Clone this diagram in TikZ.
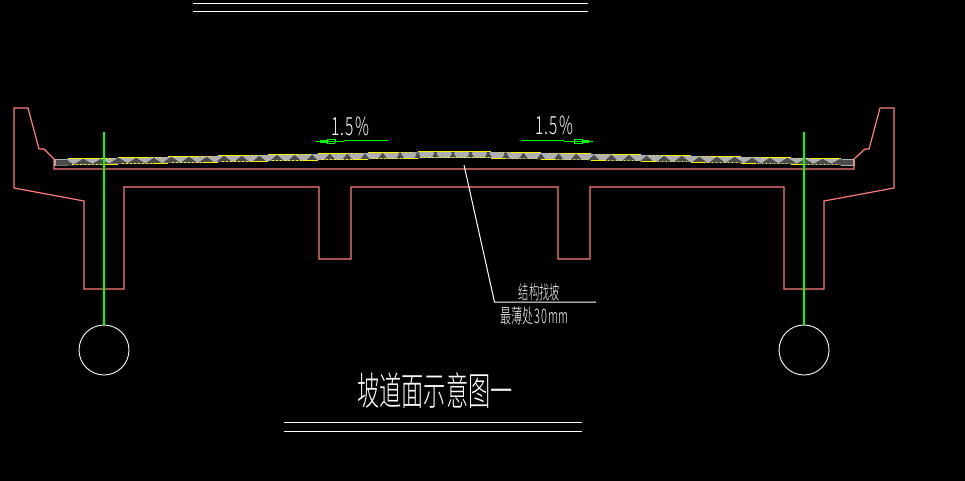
\documentclass[tikz,border=0pt]{standalone}
\usepackage{fontspec}
\newfontfamily\cjk[UprightFont={* Light}]{Noto Sans CJK SC}
\definecolor{beam}{RGB}{255,125,125}
\definecolor{slab}{RGB}{176,176,176}
\definecolor{wedge}{RGB}{75,75,75}
\tikzset{
  beamline/.style={draw=beam,line width=1.2pt,line join=miter},
  axisline/.style={draw=green,line width=1.1pt},
  whiteline/.style={draw=white,line width=1pt},
  label/.style={text=white,inner sep=0pt,font=\cjk},
  yel/.style={draw=yellow,line width=.9pt},
  yeldot/.style={draw=yellow,line width=.8pt,dash pattern=on 1.5pt off 2.5pt},
  chkfill/.style={fill=wedge},
  hole/.style={draw=white,line width=.9pt,circle,minimum size=50pt,inner sep=0pt}
}
\begin{document}
\begin{tikzpicture}[x=1pt,y=-1pt]
\fill[black] (0,0) rectangle (965,481);
\useasboundingbox (0,0) rectangle (965,481);
% top and bottom double rules
\draw[whiteline] (193,3.3) -- (588,3.3);
\draw[whiteline] (193,12) -- (588,12);
\draw[whiteline] (284,422.4) -- (582,422.4);
\draw[whiteline] (284,431.2) -- (582,431.2);
% pavement strip: left half (x0,x1,n), mirrored for the right
\foreach \xa/\xb/\n in {54/68/8,68/118/7,118/168/6,168/218/5,218/268/4,268/318/3,318/368/2,368/418/1}{
  \pgfmathsetmacro\t{151+\n*1.03}
  \pgfmathsetmacro\b{\t+6.5}
  \pgfmathsetmacro\xc{909-\xb}
  \pgfmathsetmacro\xd{909-\xa}
  \fill[slab] (\xa,\t) rectangle (\xb,\b);
  \fill[slab] (\xc,\t) rectangle (\xd,\b);
}
\fill[slab] (418,151) rectangle (491,157.6);
% hatched wedges
\foreach \k in {-22,...,22}{
  \pgfmathsetmacro\x{453+17.6*\k}
  \pgfmathsetmacro\d{abs(\x-454.5)}
  \pgfmathsetmacro\n{\d<36.5 ? 0 : min(8,floor((\d-36.5)/50)+1)}
  \pgfmathsetmacro\t{151+\n*1.03}
  \pgfmathsetmacro\b{\t+6.5}
  \pgfmathsetmacro\w{6+15.5*\d/390}
  \fill[chkfill] (\x-\w/2,\b) -- (\x,\t+.6) -- (\x+\w/2,\b) -- cycle;
  \ifdim\d pt<60pt
    \fill[chkfill] (\x-2.5,\t+.5) -- (\x,\t+3.5) -- (\x+2.5,\t+.5) -- cycle;
  \fi
}
\fill[chkfill] (56,160.5) rectangle (68,165.5);
\fill[chkfill] (841,160.5) rectangle (853,165.5);
% yellow edges
\foreach \xa/\xb/\n in {68/118/7,118/168/6,168/218/5,218/268/4,268/318/3,318/368/2,368/418/1}{
  \pgfmathsetmacro\t{151+\n*1.03}
  \pgfmathsetmacro\b{\t+6.5}
  \pgfmathsetmacro\xm{\xa+29}
  \pgfmathsetmacro\xn{\xa+44}
  \pgfmathsetmacro\xp{\xb-15}
  \draw[yel] (\xa,\t) -- (\xm,\t);
  \draw[yeldot] (\xm,\t) -- (\xn,\t);
  \draw[yel] (\xp,\b) -- (\xb,\b);
  \draw[yeldot] (\xa+4,\b) -- (\xp,\b);
  \pgfmathsetmacro\ya{909-\xa}
  \pgfmathsetmacro\yb{909-\xb}
  \pgfmathsetmacro\ym{909-\xm}
  \pgfmathsetmacro\yn{909-\xn}
  \pgfmathsetmacro\yp{909-\xp}
  \draw[yel] (\ya,\t) -- (\ym,\t);
  \draw[yeldot] (\ym,\t) -- (\yn,\t);
  \draw[yel] (\yp,\b) -- (\yb,\b);
  \draw[yeldot] (\ya-4,\b) -- (\yp,\b);
}
\draw[yel] (418,151) -- (491,151);
\draw[yeldot] (420,157.6) -- (489,157.6);
% structure outline
\draw[beamline] (54,159) -- (44,149) -- (39,149) -- (28,108) -- (14,108) -- (14,188)
  -- (84,201) -- (84,289) -- (124,289) -- (124,187) -- (319,187) -- (319,259)
  -- (351,259) -- (351,187) -- (558,187) -- (558,259) -- (590,259) -- (590,187)
  -- (784,187) -- (784,289) -- (824,289) -- (824,201) -- (894,188) -- (894,108)
  -- (880,108) -- (869,149) -- (865,149) -- (854,159) -- (854,169) -- (54,169) -- cycle;
% holes and axes
\node[hole] (hl) at (104,350) {};
\node[hole] (hr) at (804,350) {};
\coordinate (al) at (104,132);
\coordinate (ar) at (804,132);
\draw[axisline] (al) -- (hl.north);
\draw[axisline] (ar) -- (hr.north);
% slope arrows
\coordinate (la) at (316,141.3); \coordinate (lb) at (344,141.3);
\coordinate (lc) at (344,140.3); \coordinate (ld) at (388,140.3);
\draw[axisline] (la) -- (lb);
\draw[axisline] (lc) -- (ld);
\fill[green] (320,139.8) rectangle (327.5,142.8);
\draw[green,line width=.9pt] (335,143.5) -- (327,143.5) -- (327,139) -- (335,139) -- (335,143.5);
\coordinate (ra) at (593,141.3); \coordinate (rb) at (564,141.3);
\coordinate (rc) at (564,140.3); \coordinate (rd) at (521,140.3);
\draw[axisline] (ra) -- (rb);
\draw[axisline] (rc) -- (rd);
\fill[green] (582,139.8) rectangle (589,142.8);
\draw[green,line width=.9pt] (574,143.5) -- (582,143.5) -- (582,139) -- (574,139) -- (574,143.5);
% labels
\node[label,font=\cjk\fontsize{25}{25}\selectfont] (sl) at (350.5,126) {\scalebox{.62}[1]{1\hspace{2pt}.\hspace{2pt}5\hspace{3pt}\%}};
\node[label,font=\cjk\fontsize{25}{25}\selectfont] (sr) at (554.5,125.5) {\scalebox{.62}[1]{1\hspace{2pt}.\hspace{2pt}5\hspace{3pt}\%}};
\node[label,font=\cjk\fontsize{19}{19}\selectfont] (t1) at (539.5,292) {\scalebox{.54}[1]{结构找坡}};
\node[label,font=\cjk\fontsize{20}{20}\selectfont] (t2) at (534.5,315.5) {\scalebox{.55}[1]{最薄处\hspace{1pt}3\hspace{2pt}0\hspace{2pt}mm}};
\node[label,font=\cjk\fontsize{39}{39}\selectfont] (title) at (435,391) {\scalebox{.57}[1]{坡道面示意图一}};
% leader
\coordinate (pa) at (464,165); \coordinate (pb) at (494.5,302); \coordinate (pc) at (596,302);
\draw[whiteline] (pa) -- (pb) -- (pc);
\end{tikzpicture}
\end{document}
